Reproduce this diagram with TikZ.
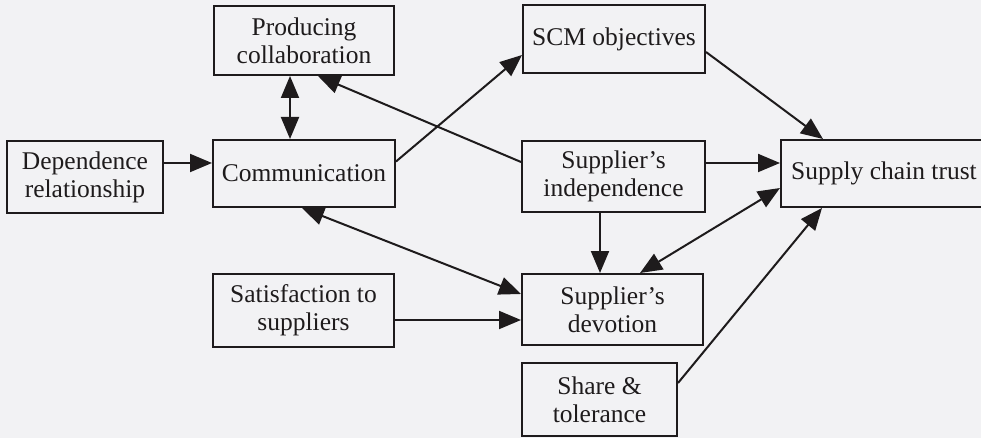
\documentclass[tikz,border=0pt]{standalone}
\usepackage{fontspec}
\setmainfont{Liberation Serif}
\usetikzlibrary{arrows.meta,calc}
\definecolor{bgc}{RGB}{242,242,244}
\definecolor{ink}{RGB}{30,27,28}
\tikzset{
  box/.style={draw=ink, line width=2pt, rectangle, inner sep=0pt, align=center,
    text=ink, font=\fontsize{25.5}{28}\selectfont},
  arr/.style={draw=ink, line width=2pt, -{Triangle[length=22pt,width=18pt]}},
  arrtwo/.style={draw=ink, line width=2pt, {Triangle[length=22pt,width=18pt]}-{Triangle[length=22pt,width=18pt]}}
}
\begin{document}
\begin{tikzpicture}[x=1pt,y=-1pt]
\fill[bgc] (0,0) rectangle (981,438);
\useasboundingbox (0,0) rectangle (981,438);

\node[box, minimum width=180pt, minimum height=69pt] (prod) at (304,40.5) {Producing\\collaboration};
\node[box, minimum width=156pt, minimum height=72pt] (dep) at (85,177) {Dependence\\relationship};
\node[box, minimum width=182pt, minimum height=67pt] (comm) at (304,173.5) {Communication};
\node[box, minimum width=182pt, minimum height=68pt] (scm) at (614,39) {SCM objectives};
\node[box, minimum width=183pt, minimum height=71pt] (indep) at (613.5,176.5) {Supplier’s\\independence};
\node[box, minimum width=206pt, minimum height=67pt] (trust) at (884,173.5) {Supply chain trust};
\node[box, minimum width=181pt, minimum height=73pt] (sat) at (303.5,310.5) {Satisfaction to\\suppliers};
\node[box, minimum width=181pt, minimum height=71pt] (dev) at (612.5,309.5) {Supplier’s\\devotion};
\node[box, minimum width=155pt, minimum height=73pt] (share) at (599.5,399.5) {Share \&\\tolerance};

\draw[arr] ([yshift=14pt]dep.east) -- ([yshift=14pt]dep.east -| comm.west);
\draw[arrtwo] ([xshift=-14pt]prod.south) -- ([xshift=-14pt]prod.south |- comm.north);
\draw[arr] ([yshift=12pt]comm.east) -- ([yshift=-16pt]scm.west);
\draw[arr] ([yshift=14.5pt]indep.west) -- ([xshift=14pt]prod.south);
\draw[arr] ([yshift=-13pt]scm.east) -- ([xshift=-61pt]trust.north);
\draw[arr] ([yshift=13.5pt]indep.east) -- ([yshift=13.5pt]indep.east -| trust.west);
\draw[arrtwo] ([xshift=27.5pt]dev.north) -- ([yshift=-14.5pt]trust.west);
\draw[arr] ([xshift=-13.5pt]indep.south) -- ([xshift=-13.5pt]indep.south |- dev.north);
\draw[arrtwo] ([xshift=-2pt]comm.south) -- ([yshift=15.5pt]dev.west);
\draw[arr] ([yshift=-9.5pt]sat.east) -- ([yshift=-9.5pt]sat.east -| dev.west);
\draw[arr] ([yshift=16.5pt]share.east) -- ([xshift=-62pt]trust.south);
\end{tikzpicture}
\end{document}
